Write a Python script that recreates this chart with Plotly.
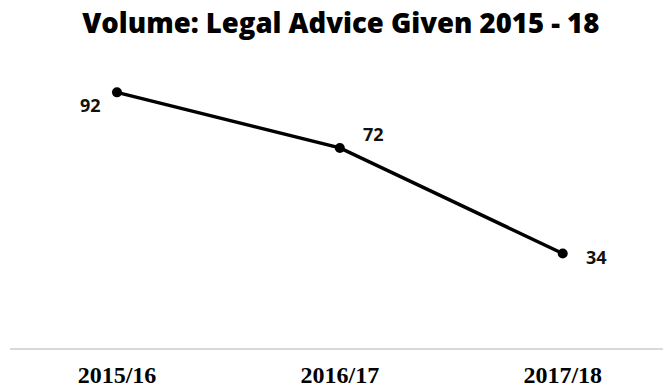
import plotly.graph_objects as go

years = ["2015/16", "2016/17", "2017/18"]
volume = [92, 72, 34]
label_pos = [("right", -14, -13), ("left", 21, 14), ("left", 21, -3)]

fig = go.Figure()
fig.add_trace(go.Scatter(
    x=years, y=volume, mode="lines+markers",
    line=dict(color="#000000", width=3.5),
    marker=dict(color="#000000", size=10),
    hoverinfo="skip",
))

for xv, yv, (anchor, dx, dy) in zip(years, volume, label_pos):
    fig.add_annotation(x=xv, y=yv, text=str(yv), showarrow=False,
                       xanchor=anchor, yanchor="middle", xshift=dx, yshift=dy,
                       font=dict(family="Open Sans", size=18, color="#111111", weight=700))

fig.update_layout(
    width=663, height=388,
    margin=dict(l=10, r=0, t=69, b=40),
    paper_bgcolor="white", plot_bgcolor="white",
    showlegend=False,
    title=dict(text="Volume: Legal Advice Given 2015 - 18", x=0.514, xanchor="center",
               y=0.94, yanchor="middle",
               font=dict(family="Open Sans", size=27.5, color="#000000", weight=800)),
    xaxis=dict(type="category", range=[-0.48, 2.45], showgrid=False,
               showline=True, linecolor="#d9d9d9", linewidth=2,
               ticks="outside", ticklen=4, tickcolor="rgba(0,0,0,0)",
               tickfont=dict(family="Liberation Serif", size=24, color="#000000", weight=700),
               zeroline=False, fixedrange=True, automargin=False),
    yaxis=dict(range=[0, 100.4], showgrid=False, showticklabels=False,
               zeroline=False, showline=False, fixedrange=True, automargin=False),
)

fig.write_html("out.html")
